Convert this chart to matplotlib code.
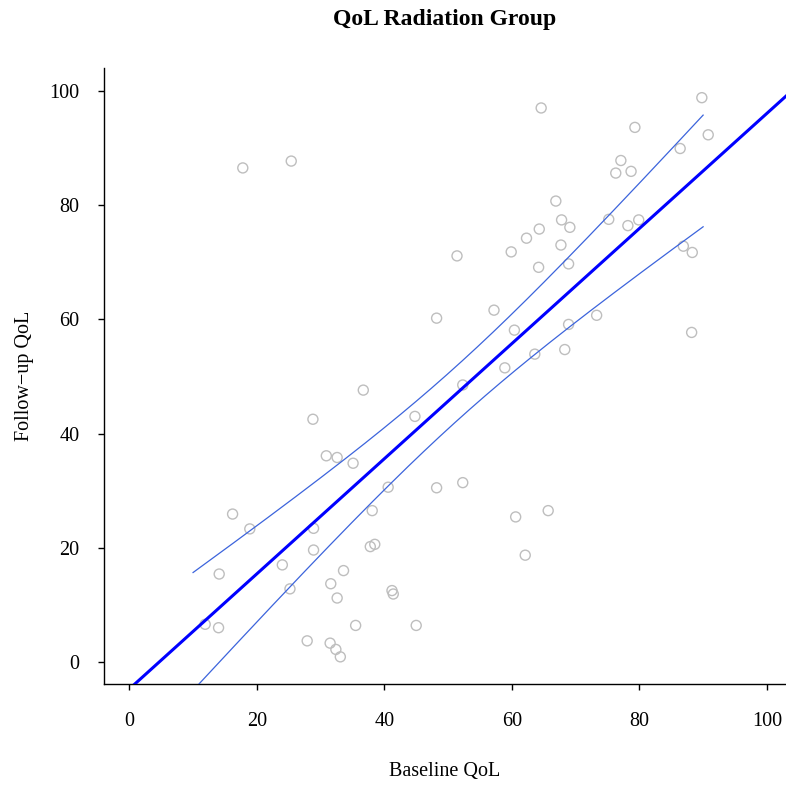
import numpy as np
import matplotlib
matplotlib.use("Agg")
import matplotlib.pyplot as plt

# baseline / follow-up quality-of-life scores, radiation arm
baseline = [17.8, 25.4, 64.6, 66.9, 67.8, 69.1, 64.3, 62.3, 67.7, 59.9,
            51.4, 64.2, 68.9, 57.2, 89.8, 90.8, 79.3, 86.4, 77.1, 76.3,
            78.7, 75.2, 78.2, 79.9, 86.9, 88.3, 73.3, 68.9, 68.3, 88.2,
            48.2, 60.4, 63.6, 58.9, 52.3, 36.7, 44.8, 35.1, 40.6, 48.2,
            52.3, 38.1, 60.6, 65.7, 37.8, 38.5, 28.8, 30.9, 32.6, 16.2,
            18.9, 28.9, 14.1, 24.0, 28.9, 25.2, 31.6, 33.6, 32.6, 11.9,
            14.0, 27.9, 31.5, 32.4, 33.1, 41.2, 41.4, 35.5, 45.0, 62.1]
followup = [86.5, 87.7, 97.0, 80.7, 77.4, 76.1, 75.8, 74.2, 73.0, 71.8,
            71.1, 69.1, 69.7, 61.6, 98.8, 92.3, 93.6, 89.9, 87.8, 85.6,
            85.9, 77.5, 76.4, 77.4, 72.8, 71.7, 60.7, 59.1, 54.7, 57.7,
            60.2, 58.1, 53.9, 51.5, 48.5, 47.6, 43.0, 34.8, 30.6, 30.5,
            31.4, 26.5, 25.4, 26.5, 20.2, 20.6, 42.5, 36.1, 35.8, 25.9,
            23.3, 23.4, 15.4, 17.0, 19.6, 12.8, 13.7, 16.0, 11.2, 6.6,
            6.0, 3.7, 3.3, 2.2, 0.9, 12.5, 11.9, 6.4, 6.4, 18.7]
x_ticks = [0, 20, 40, 60, 80, 100]
y_ticks = [0, 20, 40, 60, 80, 100]

x = np.array(baseline)
y = np.array(followup)

# least-squares fit and 95% confidence band for the mean
n = len(x)
slope, intercept = np.polyfit(x, y, 1)
resid = y - (intercept + slope * x)
sigma = np.sqrt(np.sum(resid ** 2) / (n - 2))
sxx = np.sum((x - x.mean()) ** 2)
t_crit = 1.994
grid = np.linspace(10, 90, 200)
fit = intercept + slope * grid
half = t_crit * sigma * np.sqrt(1 / n + (grid - x.mean()) ** 2 / sxx)

plt.rcParams['font.family'] = ['Liberation Serif', 'DejaVu Serif']

fig = plt.figure(figsize=(7.86, 7.85), dpi=100)
ax = fig.add_axes([0.1323, 0.1287, 0.8677, 0.7847])

ax.scatter(x, y, s=52, facecolors='none', edgecolors='#BEBEBE', linewidths=1.0, zorder=2)

xs = np.array([-10, 110])
ax.plot(xs, intercept + slope * xs, color='#0000FF', lw=2.2, zorder=3)
ax.plot(grid, fit + half, color='#3C64DC', lw=0.9, zorder=3)
ax.plot(grid, fit - half, color='#3C64DC', lw=0.9, zorder=3)

ax.set_xlim(-3.97, 103.0)
ax.set_ylim(-3.85, 104.0)
ax.set_xticks(x_ticks)
ax.set_yticks(y_ticks)
ax.tick_params(axis='both', direction='out', length=4.5, width=1, labelsize=14.5)
ax.tick_params(axis='x', pad=16)
ax.tick_params(axis='y', pad=13)

ax.spines['top'].set_visible(False)
ax.spines['right'].set_visible(False)
for s in ('left', 'bottom'):
    ax.spines[s].set_linewidth(1.0)

ax.set_xlabel('Baseline QoL', fontsize=14.5, labelpad=22)
ax.set_ylabel('Follow\u2212up QoL', fontsize=14.5, labelpad=11)
fig.text(0.5663, 0.975, 'QoL Radiation Group', fontsize=17, fontweight='bold',
         ha='center', va='center')

fig.savefig('out.png', dpi=100)
